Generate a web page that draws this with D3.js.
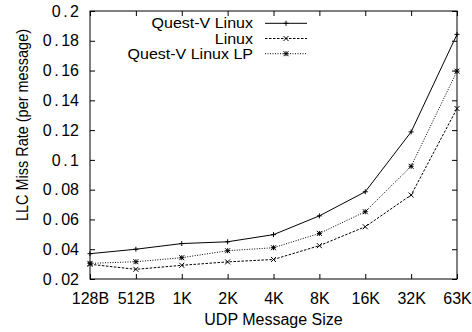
<!DOCTYPE html>
<html>
<head>
<meta charset="utf-8">
<script src="https://cdn.jsdelivr.net/npm/d3@7"></script>
<style>
  body { margin: 0; background: #fff; }
  svg { font-family: "Liberation Sans", Arial, sans-serif; }
</style>
</head>
<body>
<svg width="472" height="332"></svg>
<script>
// message sizes on the x axis
const sizes = ['128B', '512B', '1K', '2K', '4K', '8K', '16K', '32K', '63K'];

const questV = [0.037, 0.040, 0.0438, 0.045, 0.0498, 0.0624, 0.0786, 0.1188, 0.1843];
const linux = [0.0299, 0.0265, 0.0292, 0.0315, 0.0331, 0.0424, 0.0551, 0.0764, 0.1345];
const questVLP = [0.0305, 0.0316, 0.0343, 0.039, 0.0410, 0.0506, 0.0652, 0.0957, 0.1596];

const yTicks = [0.02, 0.04, 0.06, 0.08, 0.1, 0.12, 0.14, 0.16, 0.18, 0.2];

const series = [
    {name: 'Quest-V Linux', values: questV, dash: null, mark: 'plus'},
    {name: 'Linux', values: linux, dash: '2.5,1.5', mark: 'cross'},
    {name: 'Quest-V Linux LP', values: questVLP, dash: '1,1.5', mark: 'star'}
];

const margin = {top: 11, left: 90, bottom: 53, right: 15};
const width = 472;
const height = 332;

const svg = d3.select('svg');

const xScale = d3.scalePoint()
    .domain(sizes)
    .range([margin.left, width - margin.right]);

const yScale = d3.scaleLinear()
    .domain([0.02, 0.2])
    .range([height - margin.bottom, margin.top]);

const tick = 5;
const fontSize = 16;

// y-axis (left), ticks point inward
const yAxis = svg.append('g')
    .attr('transform', `translate(${margin.left},0)`)
    .call(d3.axisLeft(yScale).tickValues(yTicks).tickSize(-tick).tickPadding(11).tickFormat(d3.format('')))
    .call(g => g.select('.domain').remove());

// the period in the y labels is set a little wider, like the original
yAxis.selectAll('.tick text').each(function () {
    const t = d3.select(this);
    const parts = t.text().split('.');
    t.text(null);
    t.append('tspan').text(parts[0]);
    t.append('tspan').attr('dx', 2.5).text('.');
    t.append('tspan').attr('dx', 2.5).text(parts[1]);
});

// y-axis mirror (right)
svg.append('g')
    .attr('transform', `translate(${width - margin.right},0)`)
    .call(d3.axisRight(yScale).tickValues(yTicks).tickSize(-tick).tickFormat(''))
    .call(g => g.select('.domain').remove());

// x-axis (bottom)
svg.append('g')
    .attr('transform', `translate(0,${height - margin.bottom})`)
    .call(d3.axisBottom(xScale).tickSize(-tick).tickPadding(13.5))
    .call(g => g.select('.domain').remove());

// x-axis mirror (top)
svg.append('g')
    .attr('transform', `translate(0,${margin.top})`)
    .call(d3.axisTop(xScale).tickSize(-tick).tickFormat(''))
    .call(g => g.select('.domain').remove());

svg.selectAll('.tick text')
    .attr('font-size', fontSize)
    .attr('font-family', '"Liberation Sans", Arial, sans-serif')
    .attr('fill', '#000');
svg.selectAll('.tick line').attr('stroke', '#000');

// frame
svg.append('rect')
    .attr('x', margin.left)
    .attr('y', margin.top)
    .attr('width', width - margin.right - margin.left)
    .attr('height', height - margin.bottom - margin.top)
    .attr('fill', 'none')
    .attr('stroke', '#000')
    .attr('stroke-width', 1);

// axis titles
svg.append('text')
    .attr('x', 273.5)
    .attr('y', 325)
    .attr('text-anchor', 'middle')
    .attr('font-size', fontSize)
    .text('UDP Message Size');

svg.append('text')
    .attr('transform', 'translate(28,125) rotate(-90)')
    .attr('text-anchor', 'middle')
    .attr('font-size', fontSize)
    .attr('textLength', 192)
    .attr('lengthAdjust', 'spacingAndGlyphs')
    .text('LLC Miss Rate (per message)');

// point markers
function drawMark(g, kind, x, y) {
    const s = 2.5;
    let d;
    if (kind === 'plus') {
        d = `M${x - s},${y}H${x + s}M${x},${y - s}V${y + s}`;
    } else if (kind === 'cross') {
        d = `M${x - s},${y - s}L${x + s},${y + s}M${x - s},${y + s}L${x + s},${y - s}`;
    } else {
        d = `M${x - s},${y}H${x + s}M${x},${y - s}V${y + s}` +
            `M${x - s},${y - s}L${x + s},${y + s}M${x - s},${y + s}L${x + s},${y - s}`;
    }
    g.append('path').attr('d', d).attr('stroke', '#000').attr('stroke-width', 1).attr('fill', 'none');
}

const line = d3.line()
    .x((d, i) => xScale(sizes[i]))
    .y(d => yScale(d));

series.forEach(s => {
    const g = svg.append('g');
    g.append('path')
        .datum(s.values)
        .attr('fill', 'none')
        .attr('stroke', '#000')
        .attr('stroke-width', 1)
        .attr('stroke-dasharray', s.dash)
        .attr('d', line);
    s.values.forEach((v, i) => drawMark(g, s.mark, xScale(sizes[i]), yScale(v)));
});

// legend: rows are tight, so the text is a bit smaller but stretched to the original width
const legend = svg.append('g');
series.forEach((s, i) => {
    const base = 28.3 + i * 15.2;
    const txt = legend.append('text')
        .attr('x', 253)
        .attr('y', base)
        .attr('text-anchor', 'end')
        .attr('font-size', 14)
        .text(s.name);
    txt.attr('textLength', txt.node().getComputedTextLength() * 16 / 14)
        .attr('lengthAdjust', 'spacingAndGlyphs');
    legend.append('line')
        .attr('x1', 265).attr('x2', 307)
        .attr('y1', base - 5).attr('y2', base - 5)
        .attr('stroke', '#000')
        .attr('stroke-width', 1)
        .attr('stroke-dasharray', s.dash);
    drawMark(legend, s.mark, 286, base - 5);
});
</script>
</body>
</html>
